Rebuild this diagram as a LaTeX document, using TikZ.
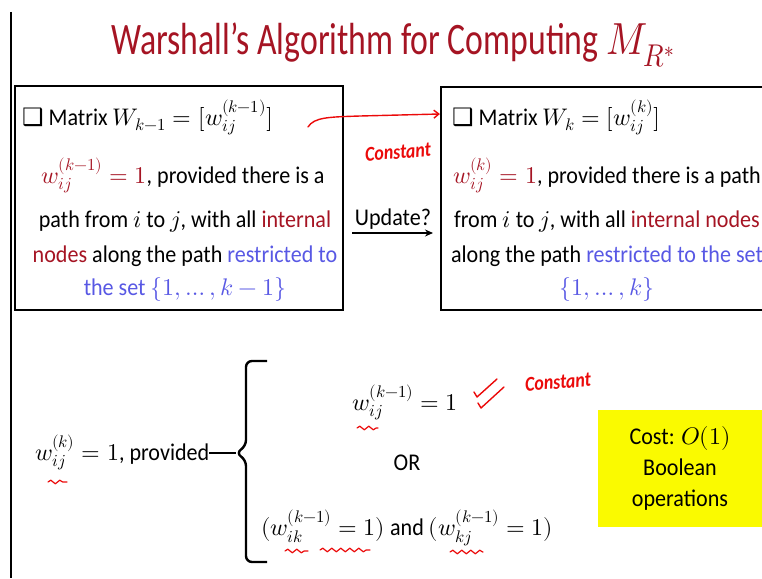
\documentclass[tikz,border=0pt]{standalone}
\usepackage{fontspec}
\usepackage{unicode-math}
\setmainfont{Carlito}[FakeStretch=0.92]
\setmathfont{Latin Modern Math}
\newfontfamily\titlefont{Carlito}[FakeStretch=0.75]
\newfontfamily\handfont{Carlito}[FakeStretch=0.85]
\newfontfamily\dingfont{DejaVu Sans}
\usepackage{tikz}
\usetikzlibrary{arrows.meta,calc,decorations.pathmorphing,positioning}
\definecolor{titlered}{RGB}{165,20,35}
\definecolor{setblue}{RGB}{88,88,228}
\definecolor{penred}{RGB}{235,10,10}
\definecolor{costyellow}{RGB}{250,250,0}
\tikzset{%
	txt/.style      = {font=\fontsize{24}{29}\selectfont, inner sep=0pt, anchor=base},
	framebox/.style = {draw, line width=2.2pt, inner sep=0pt},
	pen/.style      = {penred, line width=1.4pt, line cap=round, line join=round},
	squig/.style    = {pen, line width=1.2pt, decorate, decoration={snake, amplitude=1.8pt, segment length=9pt}},
	hand/.style     = {penred, inner sep=0pt, font=\handfont\fontsize{21}{21}\selectfont\bfseries\itshape},
	arrow/.style    = {line width=1.6pt, -{Stealth[length=8pt,width=7pt]}},
}

\begin{document}
\begin{tikzpicture}[x=1pt,y=-1pt]
	\clip (0,0) rectangle (762,578);
	\draw[line width=1.8pt] (11,12) -- (11,578);
	\node[txt, titlered, font=\titlefont\fontsize{45}{52}\selectfont] (title) at (393,55) {Warshall’s Algorithm for Computing \scalebox{0.85}[1]{$M_{R^*}$}};
	% the two matrices
	\node[framebox, minimum width=328pt, minimum height=224pt] (oldbox) at (179,198) {};
	\node[framebox, minimum width=333pt, minimum height=223pt] (newbox) at (607.5,198.5) {};
	\node[txt, anchor=base west] (oldhead) at (22,125) {{\dingfont\bfseries ❑}\ Matrix $W_{k-1} = [w_{ij}^{(k-1)}]$};
	\node[txt] (oldline1) at (183,183) {\textcolor{titlered}{$w_{ij}^{(k-1)} = 1$}, provided there is a};
	\node[txt] (oldline2) at (185,227) {path from $i$ to $j$, with all \textcolor{titlered}{internal}};
	\node[txt] (oldline3) at (185,262) {\textcolor{titlered}{nodes} along the path \textcolor{setblue}{restricted to}};
	\node[txt] (oldline4) at (185,295) {\textcolor{setblue}{the set $\{1,\ldots,k-1\}$}};
	\node[txt, anchor=base west] (newhead) at (452,125) {{\dingfont\bfseries ❑}\ Matrix $W_{k} = [w_{ij}^{(k)}]$};
	\node[txt] (newline1) at (607,183) {\textcolor{titlered}{$w_{ij}^{(k)} = 1$}, provided there is a path};
	\node[txt] (newline2) at (607,227) {from $i$ to $j$, with all \textcolor{titlered}{internal nodes}};
	\node[txt] (newline3) at (607,262) {along the path \textcolor{setblue}{restricted to the set}};
	\node[txt] (newline4) at (607,295) {\textcolor{setblue}{$\{1,\ldots,k\}$}};
	% update arrow
	\node[txt] (update) at (393,225) {Update?};
	\coordinate (updfrom) at (352,233);
	\coordinate (updto) at (433,233);
	\draw[arrow] (updfrom) -- (updto);
	% pen notes
	\coordinate (penstart) at (308,127);
	\draw[pen, -{Straight Barb[length=5pt,width=8pt]}] (penstart) .. controls (314,117) and (330,117) .. (360,116) -- (newbox.west |- 0,114);
	\node[hand, rotate=4] (const1) at (398,152) {Constant};
	% the update rule
	\node[txt, anchor=base west] (cond) at (35,460) {$w_{ij}^{(k)} = 1$, provided};
	\coordinate (bracetip) at (236,453);
	\draw[line width=2.4pt] (cond.east |- bracetip) -- (bracetip);
	\draw[line width=2.4pt, rounded corners=6pt] (267,361) -- (246,361) -- (246,446) -- (bracetip) -- (246,460) -- (246,562) -- (267,562);
	\node[txt] (optA) at (405,410) {$w_{ij}^{(k-1)} = 1$};
	\node[txt] (orword) at (407,470) {OR};
	\node[txt] (optB) at (407,535) {$(w_{ik}^{(k-1)} = 1)$ and $(w_{kj}^{(k-1)} = 1)$};
	\draw[pen] (474,392) -- (477,397) -- (497,379);
	\draw[pen] (478,403) -- (481,408) -- (504,387);
	\node[hand, rotate=4] (const2) at (558,382) {Constant};
	\draw[squig] (48,482) -- (67,482);
	\draw[squig] (357,428) -- (378,428);
	\draw[squig] (285,551) -- (308,551);
	\draw[squig] (320,550) -- (370,550);
	\draw[squig] (450,552) -- (483,552);
	% cost
	\node[fill=costyellow, minimum width=164pt, minimum height=117pt, align=center, inner sep=0pt, font=\fontsize{24}{31}\selectfont] (cost) at (680,468.5) {Cost: $O(1)$\\Boolean\\operations};
\end{tikzpicture}
\end{document}
